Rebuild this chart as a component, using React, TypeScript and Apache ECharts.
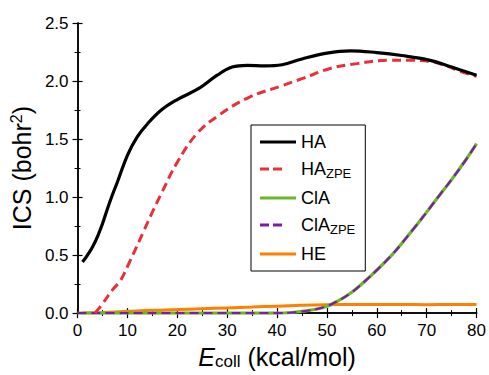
import React, { useEffect, useRef } from "react";
import * as echarts from "echarts";

const xHA = [1, 2, 3, 4, 5, 6, 7, 8, 10, 12, 14, 16.8, 20, 24.5, 28, 31, 34, 37.5, 41, 45, 50, 54.7, 60, 65, 70.5, 75, 80];
const yHA = [0.44, 0.5, 0.57, 0.66, 0.77, 0.9, 1.02, 1.13, 1.36, 1.52, 1.63, 1.75, 1.84, 1.94, 2.05, 2.12, 2.135, 2.13, 2.14, 2.19, 2.24, 2.26, 2.245, 2.22, 2.18, 2.12, 2.05];

const xHAZPE = [3.5, 5, 7, 8.6, 10, 13.2, 15, 16.8, 20, 24, 28.5, 34.4, 41, 45, 50.8, 56, 62.6, 66, 70.5, 74, 77, 80];
const yHAZPE = [0, 0.08, 0.2, 0.28, 0.4, 0.7, 0.87, 1.03, 1.3, 1.55, 1.71, 1.86, 1.96, 2.02, 2.11, 2.15, 2.18, 2.18, 2.17, 2.13, 2.08, 2.04];

const xClA = [0, 10, 20, 30, 40, 43, 46, 48, 50, 52, 55, 58, 60, 63, 65, 68, 70, 73, 75, 78, 80];
const yClA = [0, 0, 0, 0, 0, 0.005, 0.02, 0.035, 0.06, 0.1, 0.18, 0.29, 0.37, 0.5, 0.6, 0.76, 0.87, 1.04, 1.15, 1.33, 1.46];

const xHE = [1, 5, 10, 15, 20, 25, 30, 35, 40, 45, 50, 55, 60, 65, 70, 75, 80];
const yHE = [0, 0.005, 0.015, 0.025, 0.03, 0.038, 0.045, 0.052, 0.06, 0.067, 0.072, 0.074, 0.075, 0.074, 0.073, 0.074, 0.075];

const xTicks = { min: 0, max: 80, interval: 10 };
const yTicks = { min: 0, max: 2.5, interval: 0.5 };

const FONT = "'Liberation Sans', Arial, sans-serif";

const pairs = (xs: number[], ys: number[]) => xs.map((x, i) => [x, ys[i]]);

const legendNames: Record<string, string> = {
  HA: "HA",
  HA_ZPE: "HA{sub|ZPE}",
  ClA: "ClA",
  ClA_ZPE: "ClA{sub|ZPE}",
  HE: "HE",
};

const SOLID_ICON = "path://M0,0 H36 V3 H0 Z";
const DASH_ICON = "path://M0,0 H9 V3 H0 Z M13,0 H22 V3 H13 Z M35.9,1.4 H36 V1.6 H35.9 Z";

export default function App() {
  const ref = useRef<HTMLDivElement>(null);
  useEffect(() => {
    if (!ref.current) return;
    const chart = echarts.init(ref.current, undefined, { renderer: "svg" });
    const axisLine = { show: true, lineStyle: { color: "#000", width: 1.5 } };
    const tick = { show: true, inside: true, length: 5, lineStyle: { color: "#000", width: 1.2 } };
    const minorTick = { show: true, splitNumber: 2, length: 3, lineStyle: { color: "#000", width: 1 } };
    const lineSeries = (name: string, data: number[][], color: string, dashed: boolean, width: number, z: number) => ({
      name,
      type: "line",
      data,
      smooth: 0.4,
      showSymbol: false,
      symbol: "none",
      z,
      lineStyle: { color, width, type: dashed ? [9, 5] : "solid" },
      itemStyle: { color },
    });
    chart.setOption({
      animation: false,
      textStyle: { fontFamily: FONT },
      grid: { left: 73, right: 11, top: 23, bottom: 51 },
      xAxis: [
        {
          type: "value",
          position: "bottom",
          ...xTicks,
          axisLine,
          axisTick: tick,
          minorTick,
          splitLine: { show: false },
          axisLabel: { color: "#000", fontSize: 17, margin: 9, fontFamily: FONT },
          name: "{e|E}{sub|coll} (kcal/mol)",
          nameLocation: "middle",
          nameGap: 23,
          nameTextStyle: {
            color: "#000",
            fontSize: 25,
            fontFamily: FONT,
            verticalAlign: "top",
            rich: {
              e: { fontStyle: "italic", fontSize: 25, fontFamily: FONT, color: "#000" },
              sub: { fontSize: 17, fontFamily: FONT, color: "#000", padding: [10, 0, 0, 0] },
            },
          },
        },
        {
          type: "value",
          position: "top",
          ...xTicks,
          axisLine,
          axisTick: tick,
          minorTick,
          splitLine: { show: false },
          axisLabel: { show: false },
        },
      ],
      yAxis: [
        {
          type: "value",
          position: "left",
          ...yTicks,
          axisLine,
          axisTick: tick,
          minorTick,
          splitLine: { show: false },
          axisLabel: { color: "#000", fontSize: 17, margin: 9, fontFamily: FONT, formatter: (v: number) => v.toFixed(1) },
          name: "ICS (bohr{sup|2})",
          nameLocation: "middle",
          nameGap: 33,
          nameTextStyle: {
            color: "#000",
            fontSize: 25,
            fontFamily: FONT,
            rich: {
              sup: { fontSize: 16, fontFamily: FONT, color: "#000", padding: [0, 0, 11, 0] },
            },
          },
        },
        {
          type: "value",
          position: "right",
          ...yTicks,
          axisLine,
          axisTick: tick,
          minorTick,
          splitLine: { show: false },
          axisLabel: { show: false },
        },
      ],
      legend: {
        left: 251,
        top: 125,
        orient: "vertical",
        width: 124,
        borderColor: "#000",
        borderWidth: 1,
        backgroundColor: "#fff",
        padding: [8, 10, 8, 9],
        itemWidth: 36,
        itemHeight: 14,
        itemGap: 9,
        formatter: (n: string) => legendNames[n] || n,
        textStyle: {
          color: "#000",
          fontSize: 18,
          fontFamily: FONT,
          rich: {
            sub: { fontSize: 13, fontFamily: FONT, color: "#000", padding: [9, 0, 0, 0] },
          },
        },
        data: [
          { name: "HA", icon: SOLID_ICON },
          { name: "HA_ZPE", icon: DASH_ICON },
          { name: "ClA", icon: SOLID_ICON },
          { name: "ClA_ZPE", icon: DASH_ICON },
          { name: "HE", icon: SOLID_ICON },
        ],
      },
      series: [
        lineSeries("HE", pairs(xHE, yHE), "#ff7f00", false, 3, 2),
        lineSeries("ClA", pairs(xClA, yClA), "#6cb52d", false, 3.2, 3),
        lineSeries("ClA_ZPE", pairs(xClA, yClA), "#7b1fa2", true, 2.2, 4),
        lineSeries("HA_ZPE", pairs(xHAZPE, yHAZPE), "#e8303a", true, 3, 5),
        lineSeries("HA", pairs(xHA, yHA), "#000000", false, 3.2, 6),
      ],
    });
    return () => chart.dispose();
  }, []);
  return <div ref={ref} style={{ width: 489, height: 375, position: "absolute", left: 0, top: 0, background: "#fff" }} />;
}
